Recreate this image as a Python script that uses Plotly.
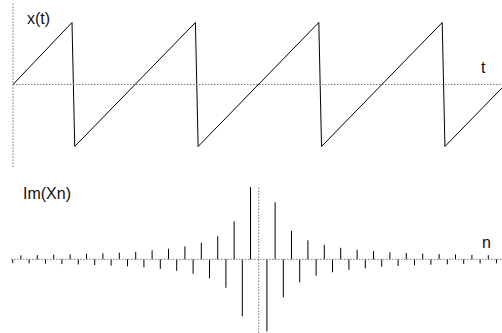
import plotly.graph_objects as go

# ---- data ----
# sawtooth vertices (time t, value x)
t_vertices = [0.0, 0.956, 1.0, 2.956, 3.0, 4.956, 5.0, 6.956, 7.0, 7.93]
x_vertices = [0.0, 1.0, -1.0, 1.0, -1.0, 1.0, -1.0, 1.0, -1.0, -0.05]

# harmonic index and imaginary part of Fourier coefficients
n_values = list(range(-30, 30))
im_values = [
    -0.38, 0.39, -0.41, 0.42, -0.44, 0.46, -0.48, 0.5, -0.52, 0.54,
    -0.57, 0.6, -0.63, 0.67, -0.7, 0.75, -0.8, 0.9, -0.95, 1.05,
    -1.15, 1.3, -1.45, 1.65, -1.9, 2.3, -2.85, 3.8, -5.7, 7.2,
    0.0,
    -7.2, 5.7, -3.8, 2.85, -2.3, 1.9, -1.65, 1.45, -1.3, 1.15,
    -1.05, 0.95, -0.9, 0.8, -0.75, 0.7, -0.67, 0.63, -0.6, 0.57,
    -0.54, 0.52, -0.5, 0.48, -0.46, 0.44, -0.42, 0.41, -0.39,
]

labels = {"top_y": "x(t)", "top_x": "t", "bot_y": "Im(Xn)", "bot_x": "n"}

W, H = 502, 333
FONT = "Liberation Sans, Arial, sans-serif"
DOT = dict(color="#777777", width=1, dash="1.5px,1.5px")

fig = go.Figure()

fig.add_trace(go.Scatter(x=t_vertices, y=x_vertices, mode="lines",
                         line=dict(color="#000000", width=1),
                         xaxis="x", yaxis="y", hoverinfo="skip"))

sx, sy = [], []
for n, v in zip(n_values, im_values):
    sx += [n, n, None]
    sy += [0, v, None]
fig.add_trace(go.Scatter(x=sx, y=sy, mode="lines",
                         line=dict(color="#000000", width=1),
                         xaxis="x2", yaxis="y2", hoverinfo="skip"))

shapes = [
    dict(type="line", xref="x", yref="y", x0=0, x1=7.925, y0=0, y1=0, line=DOT),
    dict(type="line", xref="x", yref="y", x0=0, x1=0, y0=-1.33, y1=1.33, line=DOT),
    dict(type="line", xref="x2", yref="y2", x0=-30.2, x1=29.67, y0=0, y1=0, line=DOT),
    dict(type="line", xref="x2", yref="y2", x0=0, x1=0, y0=-7.37, y1=7.3, line=DOT),
]


def ann(text, px, py):
    return dict(text=text, xref="paper", yref="paper", x=px / W, y=1 - py / H,
                xanchor="left", yanchor="middle", showarrow=False,
                font=dict(family=FONT, size=16, color="#111111"))


annotations = [
    ann(labels["top_y"], 24.5, 18.0),
    ann(labels["top_x"], 478.5, 67.0),
    ann(labels["bot_y"], 20.5, 193.0),
    ann(labels["bot_x"], 479.5, 242.0),
]

hidden = dict(visible=False, showgrid=False, zeroline=False, fixedrange=True)
fig.update_layout(
    width=W, height=H,
    margin=dict(l=0, r=0, t=0, b=0),
    paper_bgcolor="white", plot_bgcolor="white",
    showlegend=False,
    xaxis=dict(range=[-0.211, 7.925], domain=[0, 1], anchor="y", **hidden),
    yaxis=dict(range=[-1.331, 1.363], domain=[1 - 167 / H, 1], anchor="x", **hidden),
    xaxis2=dict(range=[-31.55, 29.67], domain=[0, 1], anchor="y2", **hidden),
    yaxis2=dict(range=[-7.37, 8.93], domain=[0, 163 / H], anchor="x2", **hidden),
    shapes=shapes,
    annotations=annotations,
)

fig.write_html("out.html", config={"displayModeBar": False},
               post_script="document.body.style.margin='0';document.body.style.overflow='hidden';")
